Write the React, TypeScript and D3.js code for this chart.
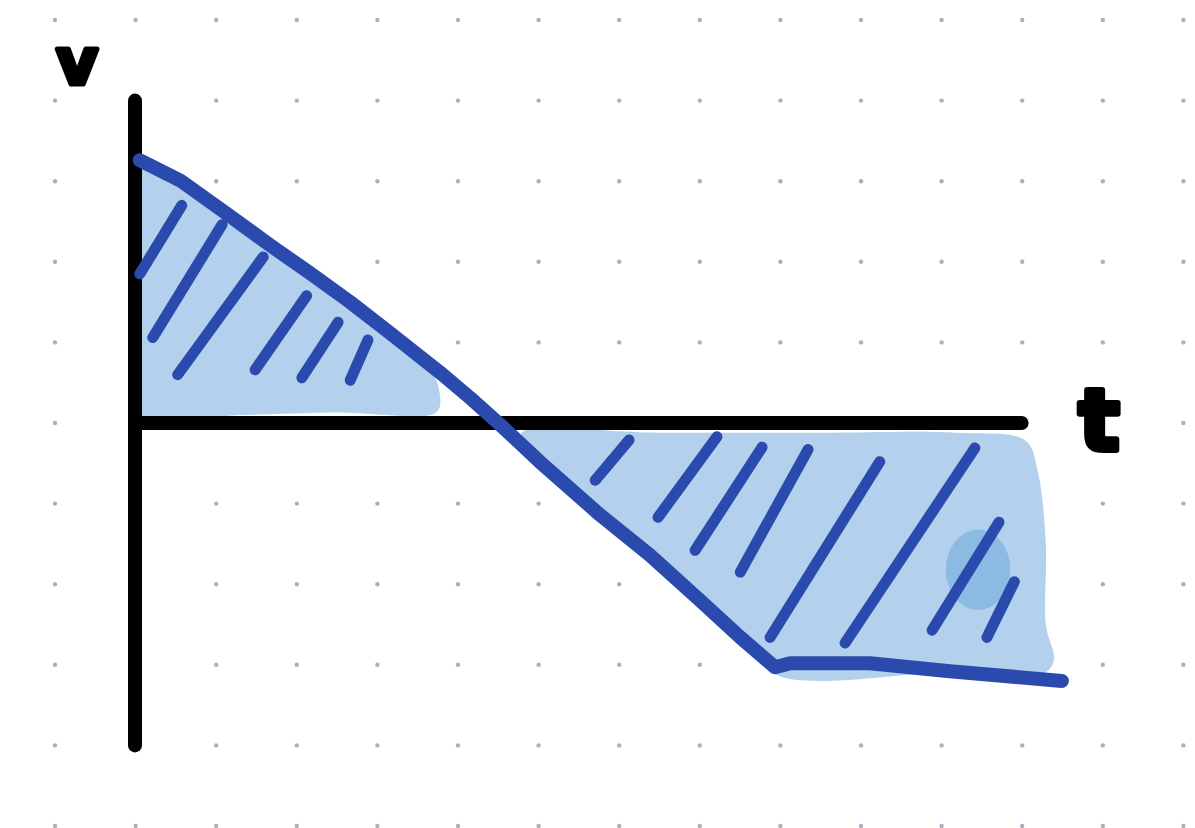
import React from "react";
import * as d3 from "d3";

// ---- data (t in grid units, v in grid units; origin at axes crossing) ----
const velocityT = [0.06, 0.56, 1.12, 1.67, 2.17, 2.67, 3.16, 3.78, 4.16, 4.53, 5.02, 5.77, 6.39, 7.01, 7.51, 7.94, 8.13, 9.12, 10.11, 11.5];
const velocityV = [3.26, 3.01, 2.61, 2.21, 1.86, 1.50, 1.12, 0.63, 0.31, -0.02, -0.48, -1.14, -1.64, -2.2, -2.66, -3.03, -2.98, -2.98, -3.08, -3.2];

// shaded area above axis (positive displacement)
const upperFillT = [0.05, 0.5, 1.2, 1.8, 2.4, 3.0, 3.55, 3.75, 3.78, 3.7, 2.5, 1.3, 0.05];
const upperFillV = [3.22, 3.1, 2.56, 2.12, 1.72, 1.3, 0.85, 0.5, 0.2, 0.11, 0.13, 0.1, 0.11];

// shaded area below axis (negative displacement)
const lowerFillT = [4.8, 6.5, 8.5, 10.2, 11.05, 11.2, 11.3, 11.3, 11.4, 11.25, 10.0, 8.5, 7.95, 7.4, 6.5, 5.6, 4.9];
const lowerFillV = [-0.12, -0.12, -0.12, -0.12, -0.22, -0.6, -1.5, -2.5, -2.95, -3.12, -3.1, -3.2, -3.12, -2.6, -1.75, -0.9, -0.3];

// hatch strokes [t, v] start / end
const hatchStart = [
  [0.58, 2.7], [1.08, 2.46], [1.59, 2.06], [2.13, 1.58], [2.52, 1.25], [2.89, 1.03],
  [6.13, -0.21], [7.22, -0.17], [7.78, -0.3], [8.35, -0.33], [9.24, -0.48], [10.42, -0.31], [10.72, -1.23], [10.91, -1.97],
];
const hatchEnd = [
  [0.06, 1.85], [0.22, 1.06], [0.53, 0.6], [1.49, 0.66], [2.07, 0.56], [2.67, 0.53],
  [5.71, -0.71], [6.49, -1.17], [6.95, -1.58], [7.51, -1.85], [7.88, -2.66], [8.81, -2.73], [9.89, -2.57], [10.57, -2.66],
];

// dark blob (t, v) and radii
const blobCenter = [10.46, -1.82];
const blobRadius = [0.4, 0.5];

const gridCols = d3.range(0, 15);
const gridRows = d3.range(0, 11);

const axisTMax = 11.0;
const axisVMin = -4.0;
const axisVMax = 4.0;

const W = 1195;
const H = 828;
const UNIT = 80.6;

export default function App() {
  const x = d3.scaleLinear().domain([0, 1]).range([135, 135 + UNIT]);
  const y = d3.scaleLinear().domain([0, 1]).range([423, 423 - UNIT]);

  const lineGen = d3
    .line<[number, number]>()
    .x((d) => x(d[0]))
    .y((d) => y(d[1]))
    .curve(d3.curveLinear);

  const closedGen = d3
    .line<[number, number]>()
    .x((d) => x(d[0]))
    .y((d) => y(d[1]))
    .curve(d3.curveCatmullRomClosed.alpha(0.5));

  const vel: [number, number][] = velocityT.map((t, i) => [t, velocityV[i]]);
  const upper: [number, number][] = upperFillT.map((t, i) => [t, upperFillV[i]]);
  const lower: [number, number][] = lowerFillT.map((t, i) => [t, lowerFillV[i]]);

  const dotX = (c: number) => 55 + c * UNIT;
  const dotY = (r: number) => 20 + r * UNIT;

  const blue = "#2a4aae";
  const light = "#b3d1ed";

  return (
    <svg
      width={W}
      height={H}
      style={{ position: "absolute", left: 0, top: 0, background: "#fff" }}
    >
      <defs>
        <clipPath id="rightOfAxis">
          <rect x={x(0)} y={0} width={W} height={H} />
        </clipPath>
      </defs>

      {/* dot grid */}
      <g fill="#aab0c2">
        {gridRows.map((r) =>
          gridCols.map((c) => <circle key={`${r}-${c}`} cx={dotX(c)} cy={dotY(r)} r={2.2} />)
        )}
      </g>

      {/* shaded areas */}
      <path d={closedGen(upper) || ""} fill={light} clipPath="url(#rightOfAxis)" />
      <path d={closedGen(lower) || ""} fill={light} />
      <ellipse
        cx={x(blobCenter[0])}
        cy={y(blobCenter[1])}
        rx={x(blobRadius[0]) - x(0)}
        ry={y(0) - y(blobRadius[1])}
        fill="#8bbae2"
      />

      {/* axes */}
      <g stroke="#000" strokeLinecap="round" fill="none">
        <line x1={x(0)} x2={x(0)} y1={y(axisVMax)} y2={y(axisVMin)} strokeWidth={14} />
        <line x1={x(0)} x2={x(axisTMax)} y1={y(0)} y2={y(0)} strokeWidth={14} />
      </g>

      {/* hatching */}
      <g stroke={blue} strokeWidth={11} strokeLinecap="round">
        {hatchStart.map((s, i) => (
          <line
            key={i}
            x1={x(s[0])}
            y1={y(s[1])}
            x2={x(hatchEnd[i][0])}
            y2={y(hatchEnd[i][1])}
          />
        ))}
      </g>

      {/* velocity line */}
      <path
        d={lineGen(vel) || ""}
        fill="none"
        stroke={blue}
        strokeWidth={14}
        strokeLinecap="round"
        strokeLinejoin="round"
      />

      {/* axis labels */}
      <text
        x={77}
        y={84}
        textAnchor="middle"
        fontFamily="DejaVu Sans"
        fontWeight="bold"
        fontSize={64}
        fill="#000"
        stroke="#000"
        strokeWidth={5}
        strokeLinejoin="round"
      >
        v
      </text>
      <text
        x={1099}
        y={450}
        textAnchor="middle"
        fontFamily="DejaVu Sans"
        fontWeight="bold"
        fontSize={86}
        fill="#000"
        stroke="#000"
        strokeWidth={6}
        strokeLinejoin="round"
      >
        t
      </text>
    </svg>
  );
}
